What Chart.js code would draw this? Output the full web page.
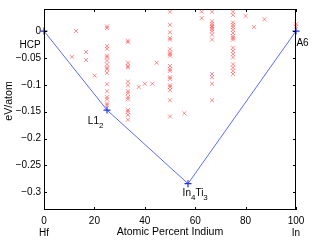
<!DOCTYPE html>
<html>
<head>
<meta charset="utf-8">
<script src="https://cdn.jsdelivr.net/npm/chart.js@4/dist/chart.umd.min.js"></script>
<style>
  html, body { margin: 0; padding: 0; background: #fff; }
  #wrap { width: 316px; height: 240px; }
</style>
</head>
<body>
<div id="wrap"><canvas id="hullChart"></canvas></div>
<script>
// Convex hull vertices (atomic percent In, formation energy eV/atom)
const hullX = [0, 25, 57.14, 100];
const hullY = [0, -0.147, -0.284, 0];

// Other computed structures, by composition column
const structX = [
    11.1, 12.7, 16.7, 16.7, 20.1,
    25, 25, 25, 25, 25, 25, 25, 25, 25, 25, 25, 25, 25, 25, 25, 25, 25,
    33.3, 33.3, 33.3, 33.3, 33.3, 33.3, 33.3, 33.3, 33.3, 33.3, 33.3, 33.3, 33.3, 33.3, 33.3,
    37.6, 40, 43, 44.7,
    50, 50, 50, 50, 50, 50, 50, 50, 50, 50, 50, 50, 50, 50, 50, 50, 50, 50, 50,
    55.7, 62.6, 62.6,
    66.7, 66.7, 66.7, 66.7, 66.7, 66.7, 66.7, 66.7, 66.7, 66.7, 66.7, 66.7, 66.7,
    75, 75, 75, 75, 75, 75, 75, 75, 75, 75, 75, 75, 75, 75, 75, 75, 75, 75,
    80, 83.3, 87.5, 100, 100
];
const structY = [
    -0.048, 0.0, -0.039, -0.054, -0.083,
    0.0086, 0.0055, -0.028, -0.033, -0.046, -0.049, -0.055, -0.062, -0.068, -0.071, -0.078, -0.099, -0.112, -0.123, -0.127, -0.135, -0.138,
    -0.018, -0.021, -0.059, -0.065, -0.068, -0.094, -0.101, -0.112, -0.116, -0.123, -0.127, -0.147, -0.150, -0.156, -0.165,
    -0.104, -0.098, -0.098, -0.059,
    0.036, 0.0115, -0.0024, -0.0128, -0.016, -0.034, -0.040, -0.043, -0.046, -0.065, -0.071, -0.074, -0.086, -0.089, -0.101, -0.104, -0.110, -0.129, -0.159,
    -0.153, 0.036, 0.024,
    0.036, 0.018, 0.0134, 0.0097, 0.0073, 0.0037, -0.0006, -0.0067, -0.016, -0.080, -0.086, -0.098, -0.129,
    0.036, 0.030, 0.016, 0.0115, 0.0073, 0.0024, -0.0037, -0.0098, -0.0128, -0.016, -0.031, -0.037, -0.043, -0.049, -0.062, -0.068, -0.074, -0.080,
    0.028, 0.0073, 0.022, 0.013, 0.0086
];

const xTicks = [0, 20, 40, 60, 80, 100];
const yTicks = [0, -0.05, -0.1, -0.15, -0.2, -0.25, -0.3];
const xEndNames = { 0: 'Hf', 100: 'In' };

// Phase labels ("_n" marks a subscript digit), placed in data units
const phaseNames = ['HCP', 'L1_2', 'In_4Ti_3', 'A6'];
const phaseX = [-5.5, 20.5, 60, 102.6];
const phaseY = [-0.026, -0.168, -0.302, -0.023];

const FONT = '"Liberation Sans", Arial, Helvetica, sans-serif';

function fmtTick(v) {
    if (v === 0) return '0';
    const s = String(Math.abs(Math.round(v * 100) / 100));
    return (v < 0 ? '\u2212' : '') + s;
}

// draw "L1_2" style strings with subscripts, centred on x
function drawSubText(ctx, str, x, y) {
    const parts = str.split(/(_\d)/).filter(p => p.length);
    ctx.textAlign = 'left';
    let w = 0;
    parts.forEach(p => {
        ctx.font = p[0] === '_' ? '8px ' + FONT : '10px ' + FONT;
        w += ctx.measureText(p[0] === '_' ? p.slice(1) : p).width;
    });
    let cx = x - w / 2;
    parts.forEach(p => {
        if (p[0] === '_') {
            ctx.font = '8px ' + FONT;
            ctx.fillText(p.slice(1), cx, y + 4);
            cx += ctx.measureText(p.slice(1)).width;
        } else {
            ctx.font = '10px ' + FONT;
            ctx.fillText(p, cx, y);
            cx += ctx.measureText(p).width;
        }
    });
}

const framePlugin = {
    id: 'frame',
    afterDatasetsDraw(chart) {
        const { ctx, chartArea: a, scales } = chart;
        ctx.save();
        ctx.strokeStyle = '#000';
        ctx.lineWidth = 1;
        ctx.strokeRect(a.left + 0.5, a.top + 0.5, a.right - a.left - 1, a.bottom - a.top - 1);
        ctx.beginPath();
        xTicks.forEach(t => {
            const px = Math.round(scales.x.getPixelForValue(t)) + 0.5;
            ctx.moveTo(px, a.bottom); ctx.lineTo(px, a.bottom - 3);
            ctx.moveTo(px, a.top); ctx.lineTo(px, a.top + 3);
        });
        yTicks.forEach(t => {
            const py = Math.round(scales.y.getPixelForValue(t)) + 0.5;
            ctx.moveTo(a.left, py); ctx.lineTo(a.left + 3, py);
            ctx.moveTo(a.right, py); ctx.lineTo(a.right - 3, py);
        });
        ctx.stroke();

        ctx.fillStyle = '#000';
        ctx.textBaseline = 'middle';
        phaseNames.forEach((n, i) => {
            drawSubText(ctx, n, scales.x.getPixelForValue(phaseX[i]), scales.y.getPixelForValue(phaseY[i]));
        });

        // axis titles
        ctx.font = '10.6px ' + FONT;
        ctx.textAlign = 'center';
        ctx.fillText('Atomic Percent Indium', (a.left + a.right) / 2, 232);
        ctx.translate(9, 101);
        ctx.rotate(-Math.PI / 2);
        ctx.fillText('eV/atom', 0, 0);
        ctx.restore();
    }
};

const chart = new Chart(document.getElementById('hullChart'), {
    type: 'scatter',
    data: {
        datasets: [
            {
                label: 'Structures',
                data: structX.map((x, i) => ({ x: x, y: structY[i] })),
                pointStyle: 'crossRot',
                radius: 2.8,
                borderWidth: 1,
                borderColor: 'rgba(255, 30, 30, 0.5)',
                clip: false
            },
            {
                label: 'Hull',
                data: hullX.map((x, i) => ({ x: x, y: hullY[i] })),
                showLine: true,
                borderColor: '#5a6cff',
                borderWidth: 1,
                pointStyle: 'cross',
                radius: 3.5,
                pointBorderColor: '#1f33e6',
                pointBorderWidth: 1.2,
                clip: false
            }
        ]
    },
    options: {
        responsive: true,
        maintainAspectRatio: false,
        animation: false,
        layout: { padding: { left: 0, right: 20, top: 5, bottom: 0 } },
        plugins: {
            legend: { display: false },
            tooltip: { enabled: false }
        },
        scales: {
            x: {
                type: 'linear',
                min: 0,
                max: 100,
                grid: { display: false, drawTicks: false },
                border: { display: false },
                afterBuildTicks: s => { s.ticks = xTicks.map(v => ({ value: v })); },
                afterFit: s => { s.height = 30; },
                ticks: {
                    padding: 5,
                    color: '#000',
                    font: { family: FONT, size: 10 },
                    maxRotation: 0,
                    callback: v => xEndNames[v] ? [String(v), xEndNames[v]] : String(v)
                }
            },
            y: {
                type: 'linear',
                min: -0.333,
                max: 0.041,
                grid: { display: false, drawTicks: false },
                border: { display: false },
                afterBuildTicks: s => { s.ticks = yTicks.map(v => ({ value: v })); },
                afterFit: s => { s.width = 44; },
                ticks: {
                    padding: 3,
                    color: '#000',
                    font: { family: FONT, size: 10 },
                    callback: v => fmtTick(v)
                }
            }
        }
    },
    plugins: [framePlugin]
});
</script>
</body>
</html>
